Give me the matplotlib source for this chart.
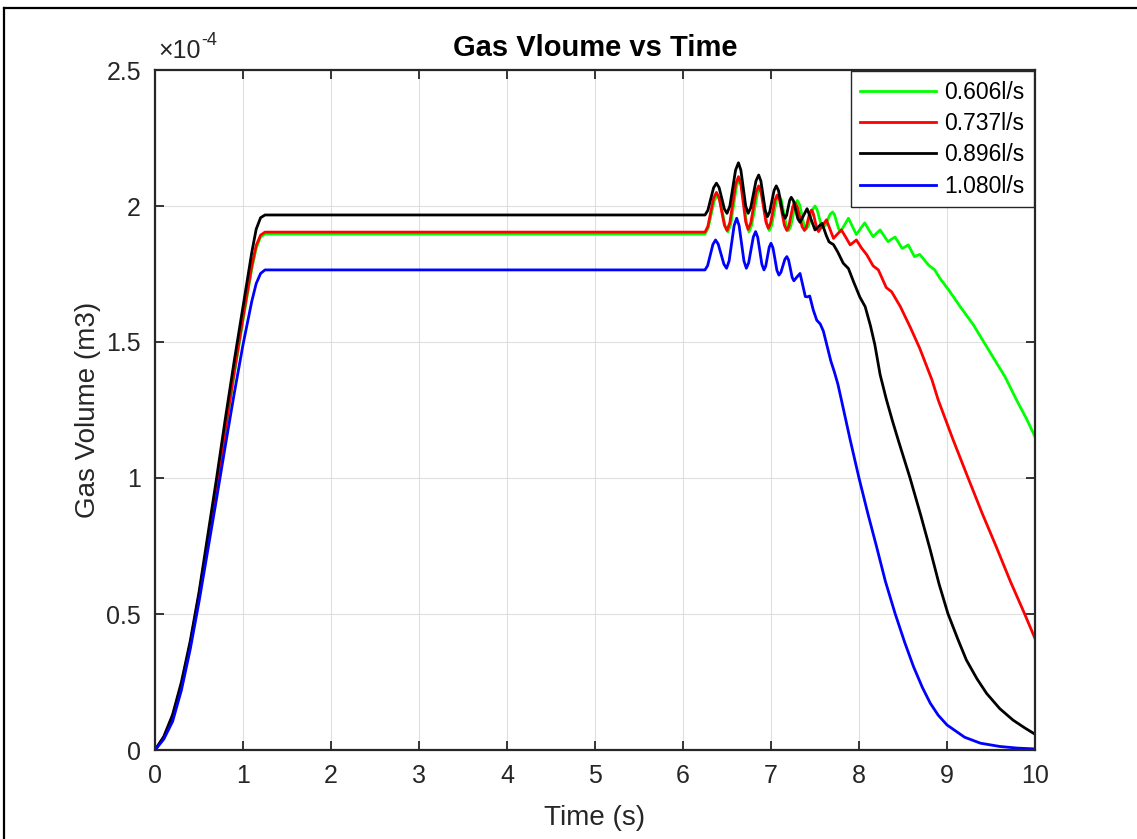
import matplotlib
matplotlib.use("Agg")
import matplotlib.pyplot as plt
import numpy as np
from matplotlib.ticker import FuncFormatter, MultipleLocator
from matplotlib.lines import Line2D

plt.rcParams['font.family'] = ['Liberation Sans', 'DejaVu Sans']

# gas volume, in units of 1e-4 m3
t_green = [0, 0.1, 0.2, 0.3, 0.4, 0.5, 0.6, 0.7, 0.8, 0.9, 1.0, 1.1, 1.15, 1.2, 1.25, 6.25,
           6.285, 6.32, 6.355, 6.39, 6.42, 6.45, 6.48, 6.51, 6.5425, 6.575, 6.6075, 6.64,
           6.6675, 6.695, 6.7225, 6.75, 6.78, 6.8125, 6.845, 6.875, 6.90, 6.9275, 6.955, 6.98,
           7.0075, 7.035, 7.0625, 7.09, 7.1175, 7.145, 7.1725, 7.20, 7.225, 7.25, 7.275, 7.30,
           7.325, 7.35, 7.375, 7.40, 7.425, 7.45, 7.475, 7.50, 7.5225, 7.545, 7.5675, 7.59,
           7.6175, 7.645, 7.6725, 7.70, 7.7225, 7.745, 7.7675, 7.79, 7.835, 7.88, 7.925, 7.97,
           8.0175, 8.065, 8.1125, 8.16, 8.20, 8.24, 8.285, 8.33, 8.37, 8.41, 8.45, 8.49, 8.525,
           8.56, 8.595, 8.63, 8.69, 8.79, 8.86, 8.92, 9.02, 9.15, 9.30, 9.45, 9.55, 9.66, 9.79,
           9.9, 10.0]
v_green = [0, 0.043, 0.12, 0.235, 0.38, 0.56, 0.76, 0.96, 1.17, 1.38, 1.58, 1.77, 1.845, 1.886, 1.897, 1.897,
           1.918, 1.969, 2.019, 2.04, 2.02, 1.973, 1.925, 1.905, 1.933, 2.003, 2.072, 2.10,
           2.072, 2.003, 1.933, 1.905, 1.929, 1.987, 2.044, 2.068, 2.045, 1.989, 1.933, 1.91,
           1.929, 1.975, 2.021, 2.04, 2.021, 1.975, 1.929, 1.91, 1.926, 1.965, 2.004, 2.02,
           2.005, 1.968, 1.93, 1.915, 1.927, 1.958, 1.988, 2.0, 1.988, 1.961, 1.933, 1.921,
           1.929, 1.95, 1.97, 1.978, 1.967, 1.942, 1.917, 1.906, 1.93, 1.955, 1.925, 1.895,
           1.917, 1.938, 1.912, 1.887, 1.9, 1.912, 1.89, 1.869, 1.878, 1.886, 1.865, 1.844, 1.85,
           1.857, 1.835, 1.814, 1.822, 1.783, 1.765, 1.734, 1.691, 1.63, 1.563, 1.483, 1.43, 1.372, 1.287,
           1.22, 1.152]

t_red = [0, 0.1, 0.2, 0.3, 0.4, 0.5, 0.6, 0.7, 0.8, 0.9, 1.0, 1.1, 1.15, 1.2, 1.25, 6.25,
         6.2825, 6.315, 6.3475, 6.38, 6.41, 6.44, 6.47, 6.50, 6.5325, 6.565, 6.5975, 6.63,
         6.6575, 6.685, 6.7125, 6.74, 6.77, 6.80, 6.83, 6.86, 6.8875, 6.915, 6.9425, 6.97,
         6.995, 7.02, 7.045, 7.07, 7.0975, 7.125, 7.1525, 7.18, 7.2025, 7.225, 7.2475, 7.27,
         7.2975, 7.325, 7.3525, 7.38, 7.40, 7.42, 7.44, 7.46, 7.48, 7.50, 7.52, 7.54, 7.585,
         7.63, 7.67, 7.71, 7.755, 7.80, 7.85, 7.90, 7.935, 7.97, 8.03, 8.09, 8.16, 8.22, 8.31,
         8.37, 8.47, 8.58, 8.69, 8.83, 8.9, 9.07, 9.24, 9.40, 9.56, 9.72, 9.88, 10.0]
v_red = [0, 0.045, 0.125, 0.24, 0.39, 0.57, 0.77, 0.97, 1.18, 1.39, 1.59, 1.78, 1.855, 1.893, 1.904, 1.904,
         1.925, 1.977, 2.029, 2.05, 2.03, 1.98, 1.93, 1.91, 1.939, 2.009, 2.079, 2.108,
         2.08, 2.011, 1.942, 1.914, 1.937, 1.994, 2.051, 2.074, 2.051, 1.996, 1.941, 1.918,
         1.936, 1.979, 2.022, 2.04, 2.021, 1.975, 1.929, 1.91, 1.925, 1.962, 1.998, 2.013,
         1.998, 1.962, 1.925, 1.91, 1.921, 1.948, 1.974, 1.985, 1.973, 1.946, 1.918, 1.906, 1.928,
         1.949, 1.915, 1.881, 1.897, 1.912, 1.885, 1.857, 1.866, 1.875, 1.845, 1.82, 1.78, 1.765, 1.70,
         1.685, 1.63, 1.556, 1.477, 1.36, 1.287, 1.14, 1.0, 0.87, 0.747, 0.62, 0.502, 0.41]

t_black = [0, 0.1, 0.2, 0.3, 0.4, 0.5, 0.6, 0.7, 0.8, 0.9, 1.0, 1.1, 1.15, 1.2, 1.25, 6.25,
           6.2825, 6.315, 6.3475, 6.38, 6.41, 6.44, 6.47, 6.50, 6.5325, 6.565, 6.5975, 6.63,
           6.6575, 6.685, 6.7125, 6.74, 6.77, 6.80, 6.83, 6.86, 6.885, 6.91, 6.935, 6.96,
           6.985, 7.01, 7.035, 7.06, 7.085, 7.11, 7.135, 7.16, 7.1775, 7.195, 7.2125, 7.23,
           7.255, 7.28, 7.305, 7.33, 7.37, 7.41, 7.455, 7.50, 7.54, 7.58, 7.63, 7.66, 7.71,
           7.76, 7.82, 7.88, 7.94, 8.01, 8.07, 8.13, 8.18, 8.24, 8.31, 8.38, 8.45, 8.58, 8.70,
           8.81, 8.91, 9.01, 9.12, 9.22, 9.34, 9.45, 9.6, 9.75, 9.88, 10.0]
v_black = [0, 0.05, 0.13, 0.25, 0.40, 0.58, 0.79, 1.0, 1.22, 1.43, 1.63, 1.83, 1.915, 1.957, 1.967, 1.967,
           1.984, 2.026, 2.067, 2.084, 2.068, 2.029, 1.989, 1.973, 2.0, 2.066, 2.132, 2.159,
           2.132, 2.066, 2.0, 1.973, 1.994, 2.044, 2.093, 2.114, 2.092, 2.038, 1.983, 1.961,
           1.978, 2.018, 2.057, 2.074, 2.057, 2.015, 1.972, 1.955, 1.966, 1.994, 2.021, 2.032,
           2.019, 1.986, 1.953, 1.94, 1.965, 1.99, 1.951, 1.912, 1.924, 1.936, 1.89, 1.868, 1.858,
           1.83, 1.79, 1.77, 1.72, 1.665, 1.63, 1.56, 1.49, 1.38, 1.29, 1.21, 1.135, 1.0, 0.865,
           0.735, 0.61, 0.502, 0.41, 0.331, 0.262, 0.208, 0.152, 0.11, 0.082, 0.058]

t_blue = [0, 0.1, 0.2, 0.3, 0.4, 0.5, 0.6, 0.7, 0.8, 0.9, 1.0, 1.1, 1.15, 1.2, 1.25, 6.25,
          6.28, 6.31, 6.34, 6.37, 6.40, 6.4325, 6.465, 6.495, 6.524, 6.5525, 6.581, 6.61,
          6.6375, 6.665, 6.6925, 6.72, 6.746, 6.7725, 6.799, 6.825, 6.849, 6.8725, 6.896, 6.92,
          6.94, 6.96, 6.98, 7.0, 7.0225, 7.045, 7.0675, 7.09, 7.1125, 7.135, 7.1575, 7.18,
          7.20, 7.22, 7.24, 7.26, 7.295, 7.33, 7.36, 7.39, 7.415, 7.44, 7.48, 7.52, 7.56, 7.595,
          7.63, 7.68, 7.72, 7.76, 7.80, 7.9, 8.0, 8.1, 8.2, 8.3, 8.41, 8.52, 8.62, 8.72, 8.81,
          8.9, 9.0, 9.2, 9.38, 9.6, 9.8, 10.0]
v_blue = [0, 0.04, 0.105, 0.22, 0.37, 0.545, 0.735, 0.925, 1.12, 1.31, 1.49, 1.65, 1.715, 1.752, 1.765, 1.765,
          1.781, 1.82, 1.859, 1.875, 1.86, 1.823, 1.786, 1.771, 1.798, 1.863, 1.928, 1.955,
          1.928, 1.863, 1.798, 1.771, 1.791, 1.839, 1.886, 1.906, 1.885, 1.836, 1.786, 1.765,
          1.779, 1.814, 1.849, 1.863, 1.846, 1.805, 1.763, 1.746, 1.756, 1.78, 1.804, 1.814,
          1.801, 1.77, 1.738, 1.725, 1.739, 1.752, 1.71, 1.667, 1.666, 1.669, 1.618, 1.58, 1.566, 1.54,
          1.495, 1.43, 1.39, 1.345, 1.287, 1.14, 1.0, 0.87, 0.747, 0.62, 0.502, 0.395, 0.306, 0.23, 0.172,
          0.128, 0.092, 0.047, 0.025, 0.013, 0.007, 0.004]

series = [
    ('0.606l/s', t_green, v_green, '#00ff00'),
    ('0.737l/s', t_red, v_red, '#ff0000'),
    ('0.896l/s', t_black, v_black, '#000000'),
    ('1.080l/s', t_blue, v_blue, '#0000ff'),
]

axis_color = '#262626'

fig = plt.figure(figsize=(11.37, 8.39), dpi=100)
ax = fig.add_axes([155 / 1137, 1 - 750 / 839, 880 / 1137, 680 / 839])

for label, t, v, color in series:
    ax.plot(t, np.array(v) * 1e-4, color=color, lw=2.0, label=label)

ax.set_xlim(0, 10)
ax.set_ylim(0, 2.5e-4)
ax.xaxis.set_major_locator(MultipleLocator(1))
ax.yaxis.set_major_locator(MultipleLocator(0.5e-4))
ax.yaxis.set_major_formatter(FuncFormatter(lambda y, _: f'{y / 1e-4:g}'))

ax.grid(True, color='#dfdfdf', lw=0.8)
ax.set_axisbelow(True)
for sp in ax.spines.values():
    sp.set_color(axis_color)
    sp.set_linewidth(1.6)
ax.tick_params(direction='in', length=6.5, width=1.3, colors=axis_color,
               labelsize=18, top=True, right=True)
ax.tick_params(axis='x', pad=10)
ax.tick_params(axis='y', pad=10)

ax.set_xlabel('Time (s)', fontsize=20, color=axis_color, labelpad=12)
ax.set_ylabel('Gas Volume (m3)', fontsize=20, color=axis_color, labelpad=4)
ax.set_title('Gas Vloume vs Time', fontsize=21, fontweight='bold', pad=10)

# exponent label in the MATLAB style
t1 = ax.text(0.004, 1.01, '\u00d710', transform=ax.transAxes, fontsize=18,
             color=axis_color, ha='left', va='bottom')
ax.annotate('-4', xy=(1, 0.6), xycoords=t1, fontsize=13, color=axis_color,
            ha='left', va='bottom')

leg = ax.legend(loc='upper right', fontsize=16.5, handlelength=3.3, handletextpad=0.35,
                labelspacing=0.36, borderaxespad=0.05, fancybox=False, framealpha=1,
                borderpad=0.42)
leg.get_frame().set_edgecolor(axis_color)
leg.get_frame().set_linewidth(1.0)
for line in leg.get_lines():
    line.set_linewidth(2.0)

# frame of the screenshot
fig.add_artist(Line2D([4 / 1137, 1], [1 - 8 / 839, 1 - 8 / 839], color='black', lw=1.6,
                      transform=fig.transFigure))
fig.add_artist(Line2D([4 / 1137, 4 / 1137], [0, 1 - 8 / 839], color='black', lw=1.6,
                      transform=fig.transFigure))

fig.savefig('out.png', dpi=100)
